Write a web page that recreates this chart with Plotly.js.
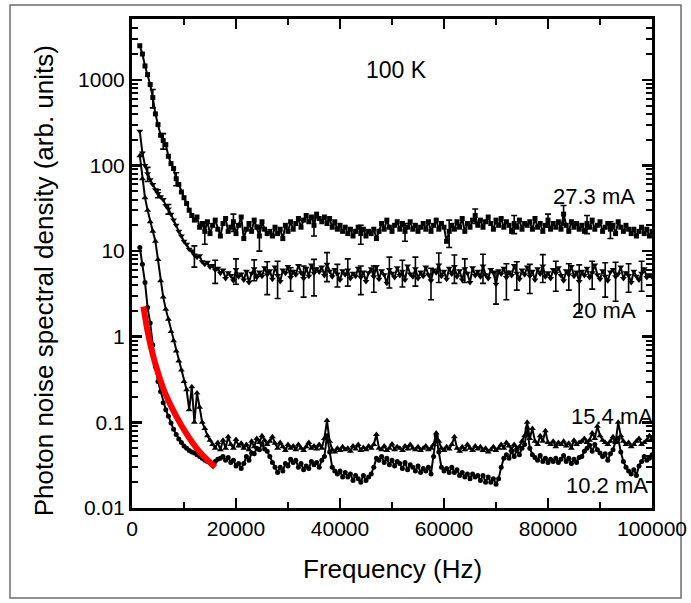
<!DOCTYPE html>
<html>
<head>
<meta charset="utf-8">
<script src="https://cdn.plot.ly/plotly-3.0.1.min.js"></script>
<style>html,body{margin:0;padding:0;background:#fff;}</style>
</head>
<body>
<div id="chart" style="width:691px;height:603px;"></div>
<script>
// Frequency grid (Hz)
const freq = [
1500,2000,2500,3000,3500,4000,4500,5000,5500,6000,
6500,7000,7500,8000,8500,9000,9500,10000,10500,11000,
11500,12000,12500,13000,13500,14000,14500,15000,15500,16000,
16500,17000,17500,18000,18500,19000,19500,20000,20500,21000,
21500,22000,22500,23000,23500,24000,24500,25000,25500,26000,
26500,27000,27500,28000,28500,29000,29500,30000,30500,31000,
31500,32000,32500,33000,33500,34000,34500,35000,35500,36000,
36500,37000,37500,38000,38500,39000,39500,40000,40500,41000,
41500,42000,42500,43000,43500,44000,44500,45000,45500,46000,
46500,47000,47500,48000,48500,49000,49500,50000,50500,51000,
51500,52000,52500,53000,53500,54000,54500,55000,55500,56000,
56500,57000,57500,58000,58500,59000,59500,60000,60500,61000,
61500,62000,62500,63000,63500,64000,64500,65000,65500,66000,
66500,67000,67500,68000,68500,69000,69500,70000,70500,71000,
71500,72000,72500,73000,73500,74000,74500,75000,75500,76000,
76500,77000,77500,78000,78500,79000,79500,80000,80500,81000,
81500,82000,82500,83000,83500,84000,84500,85000,85500,86000,
86500,87000,87500,88000,88500,89000,89500,90000,90500,91000,
91500,92000,92500,93000,93500,94000,94500,95000,95500,96000,
96500,97000,97500,98000,98500,99000,99500,100000];

// 27.3 mA
const psd273 = [
2500,2000,1450,1150,880,620,400,300,225,195,
175,128,105,92,70,60,49,42,36,30,
26,23,25,19,21,17,22,16,20,23,
18,15,21,24,17,19,22,16,20,25,
14,18,21,17,23,19,15,22,18,16,
17,15,19,16,18,14,20,17,22,18,
21,24,19,23,26,22,25,20,27,24,
22,25,21,24,19,22,18,20,17,19,
16,18,15,17,19,16,18,15,17,16,
18,14,17,21,18,23,19,17,20,22,
18,21,17,19,22,18,20,17,19,21,
18,22,17,20,23,18,21,19,13,17,
20,18,22,19,24,17,21,19,23,26,
20,23,19,22,25,21,18,23,20,24,
19,22,20,17,21,19,23,18,21,20,
22,18,24,19,21,17,20,23,18,21,
19,22,18,27,20,17,22,19,21,18,
20,17,21,19,23,18,20,22,17,19,
21,18,20,16,22,19,17,20,18,16,
18,15,17,19,16,18,15,17];

// 20 mA
const psd20 = [
250,140,100,80,68,60,52,47,43,40,
34,31,27,23,20,17,15,13,12,10.5,
10,9,8.5,8.8,7.5,7,7.4,6.5,6.8,6,
6.3,5.5,6,4.8,5.6,5.2,4.5,6.1,5,5.4,
4.6,5.8,4.3,5.5,6.2,4.9,5.7,5.1,6.4,5.3,
5.9,4.7,6.5,5.2,4.4,6,5.5,6.6,4.9,5.8,
5.3,6.8,5.6,4.8,6.3,5.1,6.9,5.5,6.2,5.7,
6.5,5.2,7,5.8,5,6.1,5.4,4.6,5.9,5.3,
6,4.8,5.5,5.1,6.3,4.9,5.7,4.4,5.6,6.2,
5,6.6,4.7,5.9,5.3,4.2,6.1,5.5,4.9,6.4,
5.2,5.8,4.6,6.7,5.4,5,6.2,4.8,5.7,5.1,
6.5,5.3,4.5,6,5.6,6.9,5.1,5.8,4.7,6.3,
5.4,6.6,5,5.9,4.6,6.2,5.5,4.3,6.4,5.2,
5.8,5,6.7,5.3,4.8,6.1,5.6,4.1,5.9,5.4,
6.3,4.9,5.7,5.2,6.8,5.5,4.7,6,5.3,6.5,
5.1,5.8,4.6,6.2,5.4,6.7,5,5.6,4.8,6.1,
5.5,6.4,5.2,4.5,5.9,5.3,6.6,5.1,5.7,4.4,
5.8,5.2,6.3,4.9,5.6,6.9,5.3,4.7,5.9,5.1,
4.5,5.7,6.1,5,5.4,6.5,4.8,5.6,5.2,4.3,
5.8,5.1,4.6,5.5,6.2,4.9,5.3,5];

// 15.4 mA
const psd154 = [
130,70,42,30,22,17,13,8,4.5,2.9,
2.1,1.6,1.15,0.9,0.68,0.52,0.41,0.3,0.24,0.14,
0.26,0.1,0.22,0.15,0.1,0.085,0.07,0.062,0.055,0.05,
0.058,0.048,0.062,0.05,0.068,0.055,0.05,0.063,0.053,0.057,
0.05,0.055,0.048,0.06,0.052,0.065,0.058,0.07,0.062,0.055,
0.06,0.068,0.057,0.05,0.058,0.052,0.047,0.055,0.05,0.053,
0.048,0.055,0.05,0.047,0.052,0.058,0.05,0.053,0.049,0.055,
0.05,0.065,0.105,0.06,0.048,0.045,0.05,0.047,0.052,0.048,
0.05,0.046,0.053,0.049,0.055,0.047,0.051,0.048,0.053,0.05,
0.055,0.072,0.05,0.048,0.053,0.047,0.05,0.056,0.048,0.052,
0.05,0.047,0.053,0.049,0.055,0.05,0.048,0.052,0.047,0.05,
0.053,0.048,0.05,0.055,0.075,0.06,0.05,0.047,0.052,0.049,
0.055,0.068,0.05,0.046,0.052,0.048,0.055,0.05,0.047,0.053,
0.049,0.052,0.047,0.05,0.045,0.048,0.052,0.047,0.05,0.055,
0.05,0.058,0.053,0.048,0.055,0.05,0.052,0.06,0.07,0.1,
0.065,0.085,0.06,0.055,0.07,0.06,0.08,0.058,0.055,0.06,
0.052,0.058,0.055,0.06,0.053,0.057,0.05,0.062,0.055,0.058,
0.06,0.065,0.058,0.062,0.075,0.065,0.09,0.07,0.062,0.058,
0.055,0.06,0.068,0.058,0.1,0.07,0.06,0.055,0.058,0.052,
0.055,0.06,0.065,0.055,0.058,0.062,0.07,0.065];

// 10.2 mA
const psd102 = [
11,7,4.3,2.2,1.45,0.8,0.45,0.3,0.23,0.17,
0.14,0.118,0.098,0.083,0.072,0.064,0.058,0.053,0.05,0.047,
0.045,0.044,0.042,0.04,0.038,0.036,0.035,0.034,0.033,0.035,
0.037,0.038,0.04,0.036,0.039,0.034,0.036,0.031,0.033,0.029,
0.033,0.04,0.036,0.044,0.043,0.05,0.048,0.056,0.049,0.046,
0.04,0.034,0.03,0.026,0.03,0.027,0.033,0.031,0.037,0.034,
0.036,0.03,0.033,0.028,0.031,0.029,0.035,0.032,0.034,0.03,
0.036,0.04,0.07,0.045,0.03,0.027,0.025,0.027,0.023,0.026,
0.023,0.025,0.021,0.024,0.022,0.02,0.024,0.021,0.023,0.025,
0.03,0.038,0.036,0.04,0.034,0.038,0.032,0.036,0.031,0.035,
0.033,0.029,0.034,0.028,0.032,0.03,0.027,0.031,0.026,0.029,
0.027,0.03,0.025,0.04,0.07,0.045,0.03,0.027,0.029,0.026,
0.03,0.026,0.028,0.024,0.026,0.023,0.025,0.022,0.025,0.023,
0.024,0.021,0.024,0.02,0.023,0.02,0.022,0.019,0.022,0.03,
0.038,0.042,0.038,0.046,0.04,0.047,0.042,0.05,0.055,0.085,
0.05,0.042,0.039,0.036,0.041,0.035,0.038,0.034,0.037,0.035,
0.038,0.034,0.037,0.041,0.035,0.038,0.033,0.037,0.034,0.039,
0.04,0.046,0.05,0.054,0.046,0.055,0.048,0.044,0.04,0.043,
0.036,0.043,0.048,0.06,0.065,0.045,0.035,0.03,0.027,0.025,
0.028,0.024,0.031,0.035,0.04,0.036,0.038,0.042];

// Error bars on selected 20 mA points (frequency, half-width)
const err20Freq = [3000,5000,7000,12000,16000,20000,23500,26000,28000,30500,33000,35000,37500,39500,41500,44000,46500,49500,52000,54500,57500,59000,62000,64000,67500,70000,72000,74000,76500,79000,81500,84000,86000,88500,91000,93000,95500,98000];
const err20Val  = [15,5,4,2.5,1.8,2,1.7,2.2,2.4,1.5,1.9,2.5,2.6,1.6,2.1,1.8,1.7,2.4,2,2.3,1.8,2.6,2.4,1.9,2.5,1.7,2.2,2,1.9,2.4,2.1,1.8,2.5,2,2.2,2.4,1.9,2.1];
// Error bars on selected 27.3 mA points
const err273Freq = [4000,6000,8500,14000,19500,24500,35000,44000,52500,61000,66000,73500,80000,83000,87500,92000];
const err273Val  = [150,40,12,5,5,5,5,4,4,6,5,5,4,7,5,4];

// Red fit curve
const fitFreq = [2200,3000,4000,5000,6000,7000,8000,9000,10000,11000,12000,13000,14000,15000,16000];
const fitPsd  = [2.25,1.15,0.62,0.38,0.25,0.18,0.135,0.104,0.082,0.066,0.054,0.045,0.039,0.034,0.030];

const xTickVals = [0,20000,40000,60000,80000,100000];
const xTickText = ['0','20000','40000','60000','80000','100000'];
const xMinorVals = [10000,30000,50000,70000,90000];
const yTickVals = [0.01,0.1,1,10,100,1000];
const yTickText = ['0.01','0.1','1','10','100','1000'];

const yMinorVals = [];
yTickVals.forEach(d => { for (let m = 2; m <= 9; m++) yMinorVals.push(d*m); });

const FONT = 'Liberation Sans, Arial, Helvetica, sans-serif';
const X_RANGE = [0, 100000];
const Y_RANGE = [-2, 3.71];

function series(y, sym, sz) {
  return {x: freq, y: y, type: 'scatter', mode: 'lines+markers',
    line: {color: 'black', width: 2},
    marker: {color: 'black', symbol: sym, size: sz},
    hoverinfo: 'skip'};
}
function errTrace(fArr, eArr, src) {
  return {x: fArr, y: fArr.map(f => src[freq.indexOf(f)]), type: 'scatter', mode: 'markers',
    marker: {size: 1, color: 'black'},
    error_y: {type: 'data', array: eArr, visible: true, color: 'black', thickness: 1.6, width: 3},
    hoverinfo: 'skip'};
}

const data = [
  series(psd273, 'square', 5),
  errTrace(err273Freq, err273Val, psd273),
  series(psd20, 'triangle-down', 6),
  errTrace(err20Freq, err20Val, psd20),
  series(psd154, 'triangle-up', 6),
  series(psd102, 'circle', 5),
  {x: fitFreq, y: fitPsd, type: 'scatter', mode: 'lines',
   line: {color: '#ff0000', width: 6, shape: 'spline'}, hoverinfo: 'skip'},
  // empty trace to carry the minor-tick overlay axes
  {x: [], y: [], type: 'scatter', mode: 'markers', xaxis: 'x2', yaxis: 'y2', hoverinfo: 'skip'}
];

const axBase = {
  ticks: 'inside', ticklen: 10, tickwidth: 2.5, tickcolor: 'black',
  showline: true, linewidth: 3, linecolor: 'black', mirror: 'ticks',
  showgrid: false, zeroline: false, automargin: false,
  tickfont: {size: 21}
};
const minorBase = {
  ticks: 'inside', ticklen: 6, tickwidth: 2, tickcolor: 'black',
  showline: false, mirror: 'ticks', showticklabels: false,
  showgrid: false, zeroline: false, automargin: false, tickmode: 'array'
};

const layout = {
  width: 691, height: 603,
  margin: {l: 132, r: 39, t: 19, b: 95},
  paper_bgcolor: 'white', plot_bgcolor: 'white',
  showlegend: false,
  font: {family: FONT, color: 'black', size: 21},
  xaxis: Object.assign({}, axBase, {
    range: X_RANGE, tickmode: 'array', tickvals: xTickVals, ticktext: xTickText
  }),
  yaxis: Object.assign({}, axBase, {
    type: 'log', range: Y_RANGE, tickmode: 'array', tickvals: yTickVals, ticktext: yTickText
  }),
  xaxis2: Object.assign({}, minorBase, {overlaying: 'x', anchor: 'y2', range: X_RANGE, tickvals: xMinorVals}),
  yaxis2: Object.assign({}, minorBase, {overlaying: 'y', anchor: 'x2', type: 'log', range: Y_RANGE, tickvals: yMinorVals}),
  annotations: [
    {x: 0.5, y: -0.125, xref: 'paper', yref: 'paper', text: 'Frequency (Hz)', showarrow: false,
     xanchor: 'center', yanchor: 'middle', font: {size: 26}},
    {x: -0.169, y: 0.464, xref: 'paper', yref: 'paper', text: 'Photon noise spectral density (arb. units)', showarrow: false,
     textangle: -90, xanchor: 'center', yanchor: 'middle', font: {size: 26}},
    {x: 0.5077, y: 0.8954, xref: 'paper', yref: 'paper', text: '100 K', showarrow: false, xanchor: 'center', yanchor: 'middle', font: {size: 23}},
    {x: 0.9712, y: 0.6360, xref: 'paper', yref: 'paper', text: '27.3 mA', showarrow: false, xanchor: 'right', yanchor: 'middle', font: {size: 22}},
    {x: 0.9731, y: 0.4049, xref: 'paper', yref: 'paper', text: '20 mA', showarrow: false, xanchor: 'right', yanchor: 'middle', font: {size: 22}},
    {x: 1.0058, y: 0.1861, xref: 'paper', yref: 'paper', text: '15.4 mA', showarrow: false, xanchor: 'right', yanchor: 'middle', font: {size: 22}},
    {x: 0.9962, y: 0.0450, xref: 'paper', yref: 'paper', text: '10.2 mA', showarrow: false, xanchor: 'right', yanchor: 'middle', font: {size: 22}}
  ],
  shapes: [
    {type: 'rect', xref: 'paper', yref: 'paper', x0: -0.2346, x1: 1.0558, y0: -0.184, y1: 1.0286,
     line: {color: '#6e6e6e', width: 1.5}, fillcolor: 'rgba(0,0,0,0)', layer: 'below'}
  ]
};

Plotly.newPlot('chart', data, layout, {staticPlot: true, displayModeBar: false});
</script>
</body>
</html>
